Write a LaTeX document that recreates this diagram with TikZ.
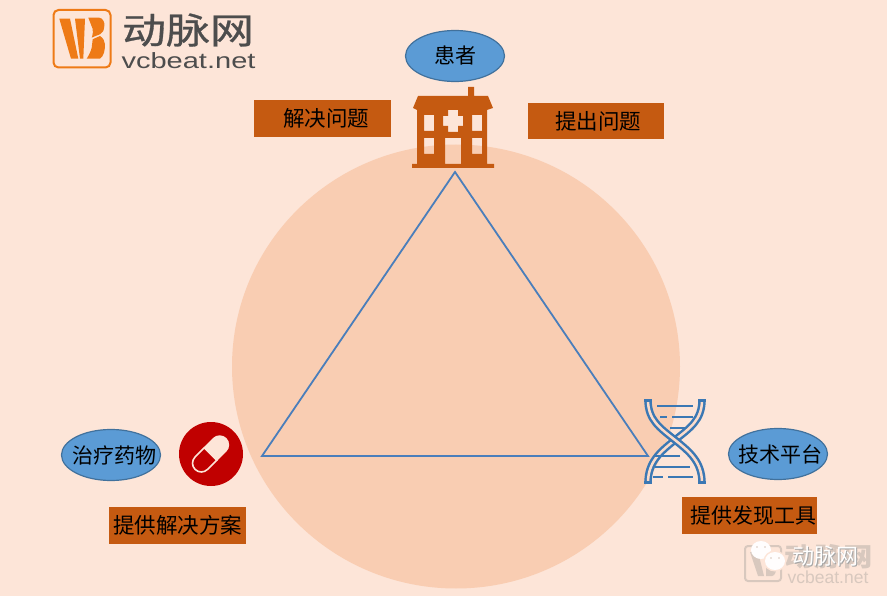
\documentclass[tikz,border=0pt]{standalone}
\usepackage{fontspec}
\setmainfont{Noto Sans CJK SC}
\newfontfamily\latinf{Liberation Sans}
\newfontfamily\logof[FakeBold=0.7]{Noto Sans CJK SC}
\definecolor{bgc}{HTML}{FDE5D8}
\definecolor{circ}{HTML}{F9CDB2}
\definecolor{brownc}{HTML}{C55A11}
\definecolor{bluec}{HTML}{5B9BD5}
\definecolor{blued}{HTML}{41719C}
\definecolor{trib}{HTML}{4A7EBB}
\definecolor{dnab}{HTML}{3B78B4}
\definecolor{redc}{HTML}{C00000}
\definecolor{orangec}{HTML}{EE7A16}
\definecolor{grayc}{HTML}{4D4D4D}
\definecolor{wmk}{HTML}{D8C8BE}
\usetikzlibrary{shapes.geometric}
\tikzset{
  x=1pt,y=-1pt,
  labelbox/.style={fill=brownc,draw=none,inner sep=0pt,minimum width=136pt,minimum height=37pt,text=black,font=\fontsize{21.5}{21.5}\selectfont},
  oval/.style={ellipse,fill=bluec,draw=blued,line width=1.2pt,inner sep=0pt,minimum width=99pt,minimum height=51pt,text=black,font=\fontsize{21}{21}\selectfont},
  strand/.style={draw=dnab,line width=2.5pt,double=bgc!60!circ,double distance=2.5pt},
  rung/.style={draw=dnab,line width=2.4pt}
}
\begin{document}
\begin{tikzpicture}
\useasboundingbox (0,0) rectangle (887,596);
\fill[bgc] (0,0) rectangle (887,596);
\fill[circ] (456,366.5) ellipse (224 and 222);

% triangle
\coordinate (ta) at (455,172);
\coordinate (tb) at (262,456);
\coordinate (tc) at (648,456);
\draw[trib,line width=1.8pt,line join=miter] (ta) -- (tb) -- (tc) -- cycle;

% logo
\draw[orangec,line width=2pt,rounded corners=5pt] (53.5,10) rectangle (110.5,67.5);
\fill[orangec] (59.3,18.7) -- (70,18.7) -- (78.3,58.7) -- (71,58.7) -- cycle;
\fill[orangec] (75,18.7) -- (85,18.7) -- (83.3,58.7) -- (80,58.7) -- cycle;
\fill[orangec] (88.3,17.7) -- (99.3,17.7) .. controls (103,18) and (105,23) .. (104.3,26)
  .. controls (104,30) and (103,33) .. (100,34.3) .. controls (97,35.5) and (94,36.5) .. (91.7,37.7)
  .. controls (93,34) and (93,31) .. (92.7,29) -- cycle;
\fill[orangec] (92.7,39.3) .. controls (95,38) and (98,37) .. (100,36) .. controls (103,38) and (105,41) .. (105,44.3)
  .. controls (105,50) and (104,56) .. (100,58.7) -- (86.7,58.7) .. controls (89,55) and (91,51) .. (91.7,47.7) -- cycle;
\node[text=grayc,font=\logof\fontsize{36}{36}\selectfont,inner sep=0pt] (logotxt) at (188,30) {\scalebox{1.22}[1]{动脉网}};
\node[text=grayc,font=\latinf\fontsize{22}{22}\selectfont,inner sep=0pt,anchor=base] (logourl) at (188.5,68.5) {\scalebox{1.32}[1]{vcbeat.net}};

% hospital
\fill[brownc,even odd rule]
  (468,96) -- (468,87) -- (474,87) -- (474,96) -- (488,96) -- (493,108) -- (487,110) -- (487,164) -- (494,164) -- (494,168)
  -- (412,168) -- (412,164) -- (417,164) -- (417,110) -- (413,108) -- (418,96) -- cycle
  (424,115) rectangle (434,131)
  (472,115) rectangle (482,131)
  (424,138) rectangle (434,154)
  (472,138) rectangle (482,154)
  (445,138) rectangle (461,164)
  (448,110) -- (458,110) -- (458,116) -- (463,116) -- (463,126) -- (458,126) -- (458,132) -- (448,132) -- (448,126) -- (443,126) -- (443,116) -- (448,116) -- cycle;

% pill
\fill[redc] (211,454) circle (32);
\begin{scope}[shift={(210.5,454)},rotate=45]
  \fill[bgc] (0,-9.5) -- (13,-9.5) arc[start angle=-90,end angle=90,radius=9.5] -- (0,9.5) -- cycle;
  \draw[bgc,line width=1.6pt] (0,-8.8) -- (-13,-8.8) arc[start angle=-90,end angle=-270,radius=8.8] -- (0,8.8) -- cycle;
\end{scope}

% DNA
\draw[strand] (702,400) .. controls (702,420) and (690,428) .. (675,440) .. controls (660,452) and (648,462) .. (648,483);
\draw[strand] (648,400) .. controls (648,420) and (660,428) .. (675,440) .. controls (690,452) and (702,462) .. (702,483);
\draw[rung] (644.3,400.5) -- (651.7,400.5) (698.3,400.5) -- (705.7,400.5) (644.3,482.5) -- (651.7,482.5) (698.3,482.5) -- (705.7,482.5);
\draw[rung] (657,406) -- (693,406);
\draw[rung] (660,417) -- (667,417) (672,417) -- (693,417);
\draw[rung] (670,428) -- (685,428);
\draw[rung] (655,456) -- (680,456);
\draw[rung] (655,467) -- (690,467);
\draw[rung] (653,477) -- (663,477) (668,477) -- (693,477);

% ovals
\node[oval] (patient) at (455,56) {\makebox[0pt]{患者}};
\node[oval] (drug) at (111,455) {\makebox[0pt]{\hspace*{6pt}治疗药物}};
\node[oval] (tech) at (778,454) {\makebox[0pt]{\hspace*{5pt}技术平台}};

% label boxes
\node[labelbox,minimum width=137pt] (solve) at (322.5,118.5) {\hspace*{7pt}解决问题};
\node[labelbox,minimum height=36pt] (ask) at (596,121) {\raisebox{-2.5pt}{\hspace*{4pt}提出问题}};
\node[labelbox,minimum width=137pt] (scheme) at (177.5,525.5) {提供解决方案};
\node[labelbox,minimum width=135pt,font=\fontsize{21}{21}\selectfont] (tool) at (749.5,515.5) {\hspace*{7pt}提供发现工具};

% watermark
\draw[wmk,line width=2pt,rounded corners=3pt] (745,546) rectangle (781,581);
\fill[wmk] (750,552) -- (758,552) -- (764,576) -- (758,576) -- cycle;
\fill[wmk] (766,552) -- (774,552) .. controls (778,556) and (778,576) .. (772,576) -- (766,576) -- cycle;
\node[text=wmk,font=\bfseries\fontsize{26}{26}\selectfont,inner sep=0pt] (wmtxt0) at (829,557) {\scalebox{1.13}[1]{动脉网}};
\node[text=wmk,font=\latinf\fontsize{17.5}{17.5}\selectfont,inner sep=0pt,anchor=base] (wmurl) at (828,583) {vcbeat.net};
\fill[white!94!bgc] (761,550) ellipse (10 and 9);
\fill[wmk] (757,547) circle (0.9) (765,547) circle (0.9);
\fill[bgc] (775,561) ellipse (11.5 and 10.5);
\fill[white!94!bgc] (775,561) ellipse (10 and 9);
\fill[wmk] (771,558) circle (0.8) (779,558) circle (0.8);
\node[text=gray!70,font=\fontsize{22}{22}\selectfont,inner sep=0pt] (wmshadow) at (826.5,557.5) {动脉网};
\node[text=white,font=\fontsize{22}{22}\selectfont,inner sep=0pt] (wmtxt) at (825.5,556.5) {动脉网};
\end{tikzpicture}
\end{document}
